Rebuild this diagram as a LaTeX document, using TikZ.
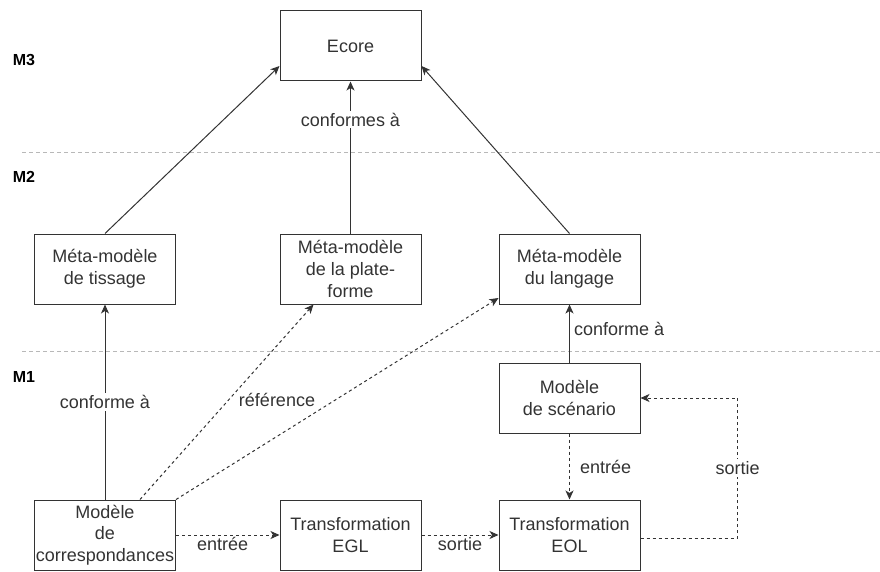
\documentclass[tikz,border=0pt]{standalone}
\usepackage{fontspec}
\setmainfont{Liberation Sans}
\usetikzlibrary{arrows.meta}
\definecolor{trait}{HTML}{333333}
\definecolor{separ}{HTML}{B8B8B8}
\tikzset{
  boite/.style={draw=trait,line width=1pt,minimum width=141pt,minimum height=70pt,
    inner sep=0pt,align=center,text=trait,font=\fontsize{18}{21.6}\selectfont},
  fleche/.style={draw=trait,line width=1pt,-{Stealth[length=9pt,width=8pt,inset=2.5pt]}},
  pointille/.style={fleche,dash pattern=on 3pt off 3pt},
  etiq/.style={text=trait,inner sep=2pt,font=\fontsize{18}{21.6}\selectfont},
  niveau/.style={text=black,font=\bfseries\fontsize{16}{19}\selectfont},
}
\begin{document}
\begin{tikzpicture}[x=1pt,y=-1pt] % ------ Niveaux de modelisation ----------------
    \useasboundingbox (0,0) rectangle (880,572);
    \draw [separ,dash pattern=on 4pt off 3pt] (22,152) -- (880,152);
    \draw [separ,dash pattern=on 4pt off 3pt] (22,351) -- (880,351);
    \node [niveau] (m3) at (24,60) {M3};
    \node [niveau] (m2) at (24,177) {M2};
    \node [niveau] (m1) at (24,377) {M1};
    \node [boite] (ecore) at (350.5,46) {Ecore};
    \node [boite] (tissage) at (105,269) {Méta-modèle\\de tissage};
    \node [boite] (plateforme) at (350.5,269) {Méta-modèle\\de la plate-\\forme};
    \node [boite] (langage) at (569.5,269) {Méta-modèle\\du langage};
    \node [boite] (scenario) at (569.5,398) {Modèle\\de scénario};
    \node [boite] (corresp) at (105,535) {Modèle\\de\\correspondances};
    \node [boite] (egl) at (350.5,535) {Transformation\\EGL};
    \node [boite] (eol) at (569.5,535) {Transformation\\EOL};
    \draw [fleche] (tissage.north) -- ([yshift=-20pt]ecore.west);
    \draw [fleche] (plateforme.north) -- (ecore.south)
        node [etiq,fill=white,pos=0.75] {conformes à};
    \draw [fleche] (langage.north) -- ([yshift=-20pt]ecore.east);
    \draw [fleche] (scenario.north) -- (langage.south)
        node [etiq,right,pos=0.58,xshift=2pt] {conforme à};
    \draw [fleche] (corresp.north) -- (tissage.south)
        node [etiq,fill=white,pos=0.5] {conforme à};
    \draw [pointille] ([xshift=35pt]corresp.north) -- ([xshift=-37pt]plateforme.south)
        node [etiq,right,pos=0.51,xshift=8pt] {référence};
    \draw [pointille] (corresp.north east) -- ([yshift=-29pt]langage.west);
    \draw [pointille] (corresp.east) -- (egl.west)
        node [etiq,below,pos=0.45] {entrée};
    \draw [pointille] (egl.east) -- (eol.west)
        node [etiq,below,pos=0.5] {sortie};
    \draw [pointille] (scenario.south) -- (eol.north)
        node [etiq,right,pos=0.5,xshift=8pt] {entrée};
    \draw [pointille] ([yshift=-3pt]eol.east) -- ++(97,0) |- (scenario.east)
        node [etiq,fill=white,pos=0.25] {sortie};
\end{tikzpicture}
\end{document}
